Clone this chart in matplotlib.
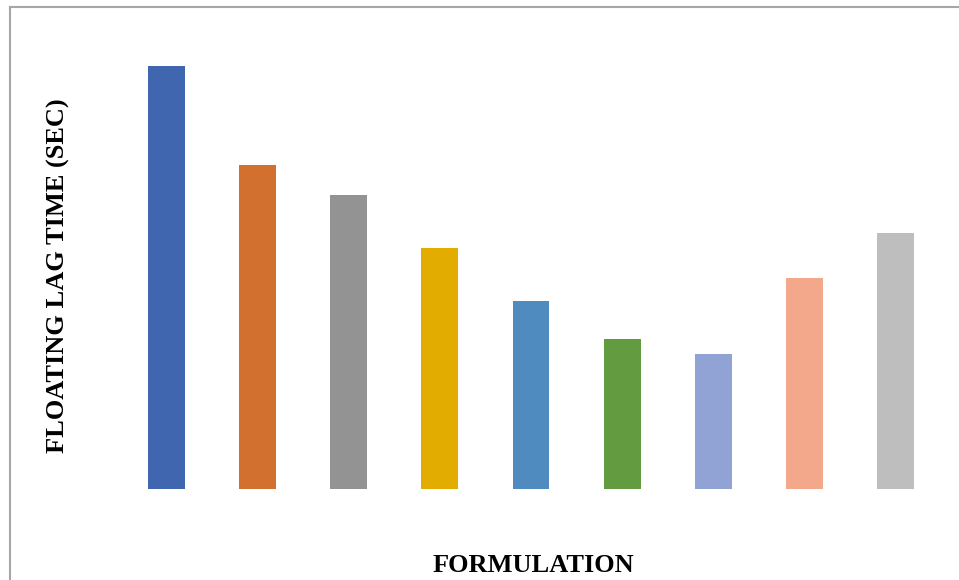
import matplotlib.pyplot as plt
from matplotlib.lines import Line2D

# floating lag time for each formulation (sec)
formulations = ['F1', 'F2', 'F3', 'F4', 'F5', 'F6', 'F7', 'F8', 'F9']
lag_time = [120, 92, 83.5, 68.5, 53.5, 42.5, 38.3, 60, 72.7]
bar_colors = ['#3F66AF', '#D2702F', '#939393', '#E2AC00', '#508BC0',
              '#639B40', '#91A3D4', '#F3A88C', '#BEBEBE']

plt.rcParams['font.family'] = ['Liberation Serif', 'DejaVu Serif']

fig = plt.figure(figsize=(9.59, 5.80), dpi=100)
W, H = 959, 580

# plot area in pixels: left 121, right 941, bottom 489, top 31
ax = fig.add_axes([121 / W, 1 - 489 / H, (941 - 121) / W, (489 - 31) / H])
x = range(len(formulations))
ax.bar(x, lag_time, width=0.406, color=bar_colors)
ax.set_xlim(-0.5, len(formulations) - 0.5)
ax.set_ylim(0, 130)
ax.set_xticks([])
ax.set_yticks([])
for side in ax.spines.values():
    side.set_visible(False)

fig.text(533 / W, 1 - 566 / H, 'FORMULATION', ha='center', va='center',
         fontsize=19, fontweight='bold')
fig.text(58 / W, 1 - 276 / H, 'FLOATING LAG TIME (SEC)', ha='center',
         va='center', rotation=90, fontsize=19, fontweight='bold')

# chart frame
fig.add_artist(Line2D([9.5 / W, 9.5 / W], [0, 1 - 6.5 / H], color='#A6A6A6',
                      lw=1.5, transform=fig.transFigure))
fig.add_artist(Line2D([9.5 / W, 1], [1 - 6.5 / H, 1 - 6.5 / H],
                      color='#A6A6A6', lw=1.5, transform=fig.transFigure))

fig.savefig('out.png', dpi=100)
